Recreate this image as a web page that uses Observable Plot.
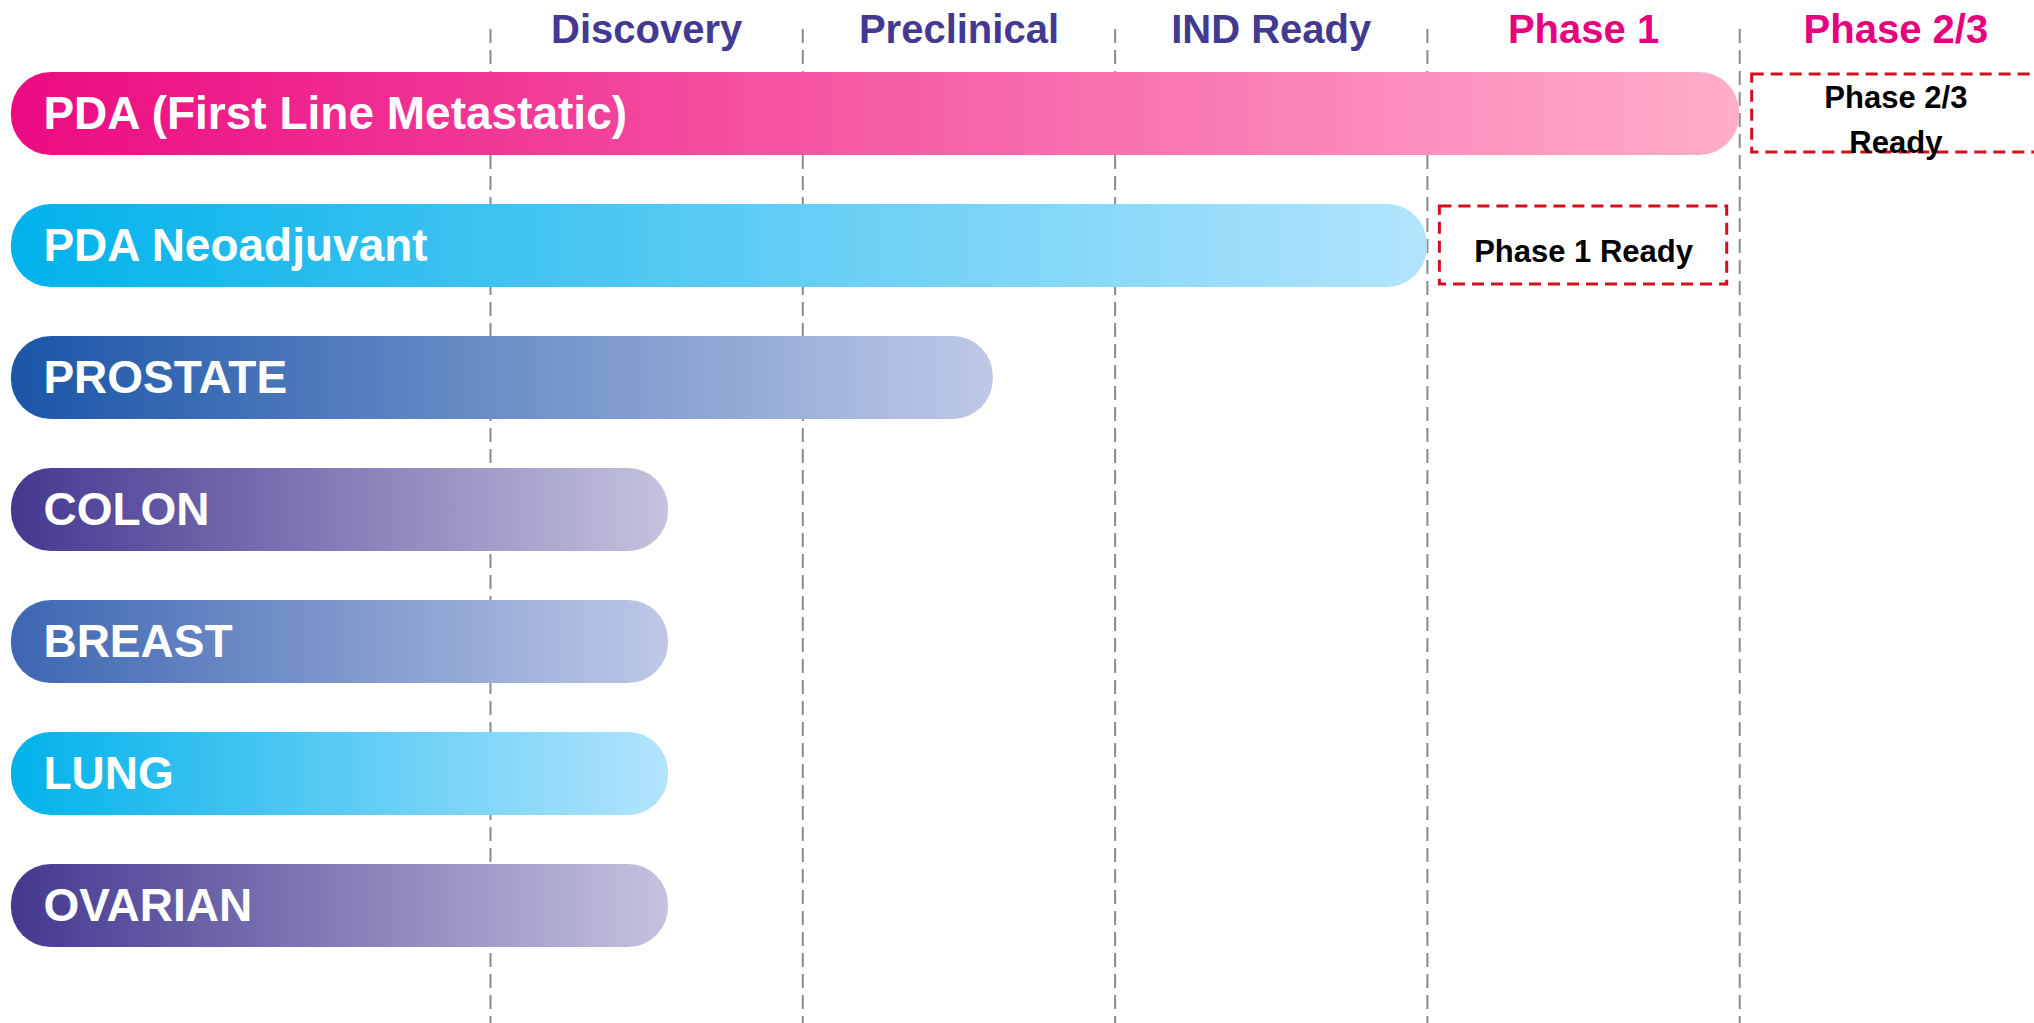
<!DOCTYPE html>
<html>
<head>
<meta charset="utf-8">
<script src="https://cdn.jsdelivr.net/npm/d3@7"></script>
<script src="https://cdn.jsdelivr.net/npm/@observablehq/plot@0.6"></script>
<style>
  html, body { margin: 0; padding: 0; background: #ffffff; overflow: hidden; }
  svg { overflow: hidden; display: block; }
</style>
</head>
<body>
<script>
// ---- data ----
const stages = ["Discovery", "Preclinical", "IND Ready", "Phase 1", "Phase 2/3"];
const programs = ["PDA (First Line Metastatic)", "PDA Neoadjuvant", "PROSTATE", "COLON", "BREAST", "LUNG", "OVARIAN"];
const progress = [4, 3, 1.61, 0.57, 0.57, 0.57, 0.57];   // stage units reached
const readyPrograms = ["PDA (First Line Metastatic)", "PDA Neoadjuvant"];
const readyStage = [4, 3];
const readyLabels = ["Phase 2/3\nReady", "Phase 1 Ready"];

// ---- styles ----
const stageColor = ["#433991", "#433991", "#433991", "#E6007E", "#E6007E"];
const gradients = [
  ["#EC0A82", "#FFADC9"],
  ["#00B2EA", "#B3E4FD"],
  ["#1A55A8", "#BEC8E6"],
  ["#443890", "#C4C2DE"],
  ["#3D66B2", "#BEC8E6"],
  ["#00B2EA", "#B3E4FD"],
  ["#443890", "#C4C2DE"]
];
const font = "'Liberation Sans', Arial, sans-serif";
const labelStart = -1.534;

const bars = programs.map((p, i) => ({program: p, start: labelStart, end: progress[i], grad: `url(#grad-${i})`}));
const ready = readyPrograms.map((p, i) => ({program: p, x1: readyStage[i] + 0.04, x2: readyStage[i] + 0.96, label: readyLabels[i]}));
const heads = stages.map((s, i) => ({stage: s, x: i + 0.5, color: stageColor[i]}));
const bounds = stages.map((s, i) => i);

const W = 2034, H = 1023;
const mTop = 44.35, mBottom = 49.75;

const svg = Plot.plot({
  width: W,
  height: H,
  marginLeft: 0,
  marginRight: 0,
  marginTop: mTop,
  marginBottom: mBottom,
  style: {fontFamily: font, background: "#ffffff"},
  x: {domain: [-490 / 312.3, (W - 490) / 312.3], axis: null},
  y: {type: "band", domain: programs, paddingInner: 0.3745, paddingOuter: 0.18725, axis: null},
  color: {type: "identity"},
  marks: [
    Plot.ruleX(bounds, {x: d => d, stroke: "#8a8a8a", strokeWidth: 2, strokeDasharray: "14,7",
      insetTop: -(mTop - 29), insetBottom: -mBottom}),
    Plot.text(heads, {x: "x", text: "stage", fill: "color", frameAnchor: "top", lineAnchor: "middle",
      dy: 30 - mTop, fontSize: 40, fontWeight: "bold", fontFamily: font}),
    Plot.barX(bars, {x1: "start", x2: "end", y: "program", fill: "grad", rx: 40}),
    Plot.text(bars, {x: "start", y: "program", text: "program", textAnchor: "start", dx: 32,
      fill: "white", fontSize: 46, fontWeight: "bold", fontFamily: font}),
    Plot.barX(ready, {x1: "x1", x2: "x2", y: "program", fill: "none", stroke: "#D0101A",
      strokeWidth: 3, strokeDasharray: "12,7", insetTop: 2, insetBottom: 3}),
    Plot.text(ready, {x: d => (d.x1 + d.x2) / 2, y: "program", text: "label", fill: "black",
      fontSize: 31, fontWeight: "bold", fontFamily: font, lineHeight: 1.45, dy: 2})
  ]
});

// gradient definitions for the bars
const defs = d3.select(svg).insert("defs", ":first-child");
gradients.forEach((g, i) => {
  const lg = defs.append("linearGradient").attr("id", `grad-${i}`)
    .attr("x1", "0%").attr("x2", "100%").attr("y1", "0%").attr("y2", "0%");
  lg.append("stop").attr("offset", "0%").attr("stop-color", g[0]);
  lg.append("stop").attr("offset", "100%").attr("stop-color", g[1]);
});

document.body.appendChild(svg);
</script>
</body>
</html>
